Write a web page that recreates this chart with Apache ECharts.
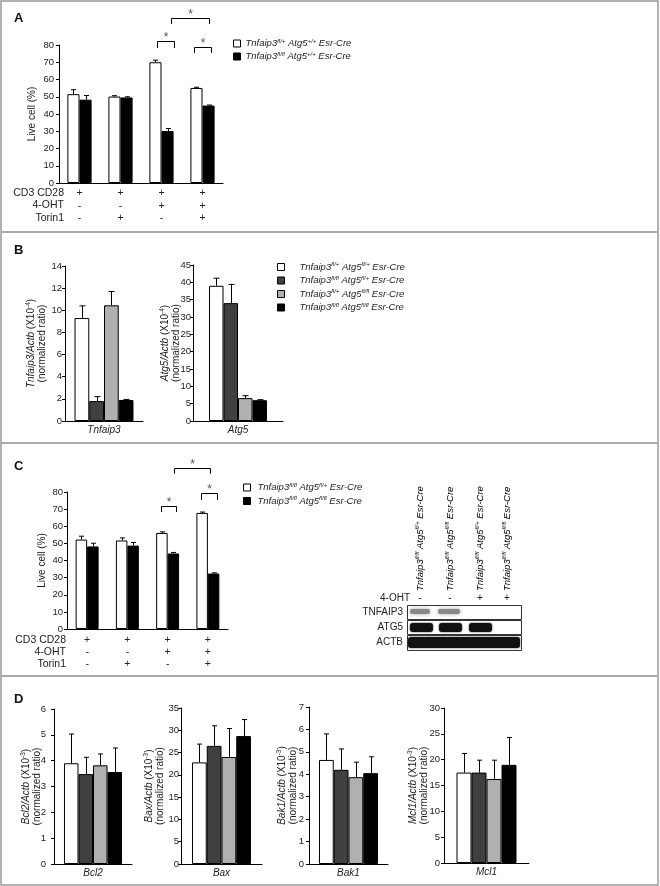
<!DOCTYPE html>
<html><head><meta charset="utf-8">
<script src="https://cdn.jsdelivr.net/npm/echarts@6/dist/echarts.min.js"></script>
<style>html,body{margin:0;padding:0;background:#fff}#c{width:660px;height:886px}</style>
</head><body><div id="c"></div>
<script>
// ---------------- DATA ----------------
// Panel A
const condCD3 = ['+', '+', '+', '+'];
const condOHT = ['-', '-', '+', '+'];
const condTorin = ['-', '+', '-', '+'];
const aWhite = [51.5, 50.1, 70.0, 55.1];
const aWhiteErr = [2.6, 0.5, 1.2, 0.4];
const aBlack = [48.3, 49.6, 30.1, 44.9];
const aBlackErr = [2.4, 0.4, 1.5, 0.3];
// Panel B
const bTnfaip3 = [9.3, 1.8, 10.45, 1.9];
const bTnfaip3Err = [1.1, 0.4, 1.25, 0.05];
const bAtg5 = [39.0, 34.0, 6.6, 6.0];
const bAtg5Err = [2.2, 5.4, 0.7, 0.15];
// Panel C
const cWhite = [52.2, 51.7, 56.1, 67.8];
const cWhiteErr = [2.0, 1.5, 0.6, 0.5];
const cBlack = [48.2, 48.7, 44.1, 32.4];
const cBlackErr = [1.9, 1.8, 0.6, 0.4];
// Panel D
const dBcl2 = [3.90, 3.48, 3.82, 3.56];
const dBcl2Err = [1.13, 0.65, 0.44, 0.93];
const dBax = [22.8, 26.5, 24.0, 28.7];
const dBaxErr = [4.1, 4.5, 6.4, 3.7];
const dBak1 = [4.64, 4.20, 3.87, 4.05];
const dBak1Err = [1.16, 0.93, 0.67, 0.73];
const dMcl1 = [17.5, 17.5, 16.25, 19.0];
const dMcl1Err = [3.7, 2.4, 3.65, 5.3];
// Genotype labels [Tnfaip3, Atg5]
const genoA = [['fl/+', '+/+'], ['fl/fl', '+/+']];
const genoB = [['fl/+', 'fl/+'], ['fl/fl', 'fl/+'], ['fl/+', 'fl/fl'], ['fl/fl', 'fl/fl']];
const genoC = [['fl/fl', 'fl/+'], ['fl/fl', 'fl/fl']];
const genoBlot = [['fl/fl', 'fl/+'], ['fl/fl', 'fl/fl'], ['fl/fl', 'fl/+'], ['fl/fl', 'fl/fl']];
const blotOHT = ['-', '-', '+', '+'];
const condRows = ['CD3 CD28', '4-OHT', 'Torin1'];

// significance annotations: [cat1, offset1, cat2, offset2, topValue, legValue]
const sigA = [[2, -0.1, 2, 0.3, 82.3, 78.3], [3, -0.2, 3, 0.2, 78.8, 75.4], [2, 0.22, 3, 0.15, 95.7, 92.2]];
const sigC = [[2, -0.17, 2, 0.22, 71.8, 68.3], [3, -0.17, 3, 0.22, 79.4, 75.3], [2, 0.17, 3, 0.05, 94.2, 90.7]];

// ---------------- STYLE ----------------
const FONT = '"Liberation Sans", Arial, sans-serif';
const TXT = '#222';
const COLORS4 = ['#ffffff', '#404040', '#b0b0b0', '#000000'];
const COLORS2 = ['#ffffff', '#000000'];

const richText = {
  i: {fontStyle: 'italic', fontSize: 9.5, fontFamily: FONT, color: TXT, lineHeight: 11},
  n: {fontSize: 9.5, fontFamily: FONT, color: TXT, lineHeight: 11},
  s: {fontStyle: 'italic', fontSize: 6, fontFamily: FONT, color: TXT, lineHeight: 6, verticalAlign: 'top'},
  e: {fontSize: 6, fontFamily: FONT, color: TXT, lineHeight: 6, verticalAlign: 'top'}
};
const richAxis = {
  i: {fontStyle: 'italic', fontSize: 10, fontFamily: FONT, color: TXT, lineHeight: 11.5},
  n: {fontSize: 10, fontFamily: FONT, color: TXT, lineHeight: 11.5},
  e: {fontSize: 6.5, fontFamily: FONT, color: TXT, lineHeight: 6, verticalAlign: 'top'}
};
function genoText(g) { return '{i|Tnfaip3}{s|' + g[0] + '}{i| Atg5}{s|' + g[1] + '}{i| Esr-Cre}'; }
function axName(gene, exp) { return '{i|' + gene + '/Actb}{n| (X10}{e|' + exp + '}{n|)}\n{n|(normalized ratio)}'; }

const grids = [
  {left: 59, top: 45, width: 164, height: 138},   // A
  {left: 65, top: 266, width: 78, height: 155},   // B1
  {left: 193, top: 265, width: 90, height: 156},  // B2
  {left: 67, top: 492, width: 161, height: 137},  // C
  {left: 54, top: 709, width: 78, height: 155},   // D1
  {left: 181, top: 708, width: 81, height: 156},  // D2
  {left: 309, top: 707, width: 79, height: 157},  // D3
  {left: 444, top: 708, width: 85, height: 155}   // D4
];

function mkY(gi, max, interval, name, nameGap, labelMargin) {
  return {type: 'value', gridIndex: gi, min: 0, max: max, interval: interval,
    axisLine: {show: true, lineStyle: {color: '#000', width: 1}},
    axisTick: {show: true, length: 3, lineStyle: {color: '#000'}},
    splitLine: {show: false},
    axisLabel: {fontSize: 9.5, color: TXT, fontFamily: FONT, margin: labelMargin},
    name: name, nameLocation: 'middle', nameRotate: 90, nameGap: nameGap, nameMoveOverlap: false,
    nameTextStyle: {fontSize: 10, color: TXT, fontFamily: FONT, rich: richAxis, align: 'center'}
  };
}
function mkXcond(gi, margin, lh) {
  return {type: 'category', gridIndex: gi, data: condCD3.map((c, i) => 'g' + i),
    axisLine: {show: true, lineStyle: {color: '#000'}}, axisTick: {show: false},
    axisLabel: {fontSize: 10.5, color: TXT, fontFamily: FONT, margin: margin, lineHeight: lh,
      formatter: (v, i) => condCD3[i] + '\n' + condOHT[i] + '\n' + condTorin[i]}
  };
}
function mkXgene(gi, gene) {
  return {type: 'category', gridIndex: gi, data: [gene],
    axisLine: {show: true, lineStyle: {color: '#000'}}, axisTick: {show: false},
    axisLabel: {fontSize: 10, fontStyle: 'italic', color: TXT, fontFamily: FONT, margin: 4}
  };
}
function bar(name, gi, data, color, gap) {
  return {type: 'bar', name: name, xAxisIndex: gi, yAxisIndex: gi, data: data, barGap: '0%',
    barCategoryGap: gap, silent: true, itemStyle: {color: color, borderColor: '#000', borderWidth: 1}};
}
// items: [cat, barIndex, value, err]
function errBars(gi, items, n, gapFrac, cap) {
  return {type: 'custom', xAxisIndex: gi, yAxisIndex: gi, silent: true, z: 5, data: items,
    renderItem: function (params, api) {
      const cat = api.value(0), k = api.value(1), v = api.value(2), e = api.value(3);
      const band = api.size([1, 0])[0];
      const tot = band * (1 - gapFrac), w = tot / n;
      const b = api.coord([cat, v]), t = api.coord([cat, v + e]);
      const x = Math.round(b[0] - tot / 2 + w * (k + 0.5)) + 0.5;
      return {type: 'group', children: [
        {type: 'line', shape: {x1: x, y1: b[1], x2: x, y2: t[1]}, style: {stroke: '#000', lineWidth: 1}},
        {type: 'line', shape: {x1: x - cap, y1: t[1], x2: x + cap, y2: t[1]}, style: {stroke: '#000', lineWidth: 1}}
      ]};
    }};
}
function sigSeries(gi, items) {
  return {type: 'custom', xAxisIndex: gi, yAxisIndex: gi, silent: true, z: 6, data: items,
    renderItem: function (params, api) {
      const band = api.size([1, 0])[0];
      const x1 = Math.round(api.coord([api.value(0), 0])[0] + api.value(1) * band) + 0.5;
      const x2 = Math.round(api.coord([api.value(2), 0])[0] + api.value(3) * band) + 0.5;
      const yt = Math.round(api.coord([0, api.value(4)])[1]) + 0.5;
      const yl = api.coord([0, api.value(5)])[1];
      return {type: 'group', children: [
        {type: 'polyline', shape: {points: [[x1, yl], [x1, yt], [x2, yt], [x2, yl]]}, style: {stroke: '#000', lineWidth: 1, fill: null}},
        {type: 'text', x: (x1 + x2) / 2, y: yt - 4, style: {text: '*', fontSize: 12, fontFamily: FONT, fill: '#555', align: 'center', verticalAlign: 'middle'}}
      ]};
    }};
}
function pairItems(vals, errs, k) { return vals.map((v, i) => [i, k, v, errs[i]]); }
function quadItems(vals, errs) { return vals.map((v, k) => [0, k, v, errs[k]]); }

const legendNames = {};
function legend(prefix, genos, left, top, gap, textPad) {
  const data = genos.map((g, k) => { const nm = prefix + k; legendNames[nm] = genoText(g); return nm; });
  return {orient: 'vertical', left: left, top: top, padding: 0, itemWidth: 7, itemHeight: 7, itemGap: gap, icon: 'rect',
    selectedMode: false, data: data,
    itemStyle: {borderColor: '#000', borderWidth: 1},
    formatter: nm => legendNames[nm],
    textStyle: {rich: richText, padding: [0, 0, 0, textPad]}};
}

const series = [];
// A
series.push(bar('A0', 0, aWhite, COLORS2[0], '41%'), bar('A1', 0, aBlack, COLORS2[1], '41%'));
series.push(errBars(0, pairItems(aWhite, aWhiteErr, 0).concat(pairItems(aBlack, aBlackErr, 1)), 2, 0.41, 2.5));
series.push(sigSeries(0, sigA));
// B
[[1, bTnfaip3, bTnfaip3Err, 0.244], [2, bAtg5, bAtg5Err, 0.356]].forEach(([gi, vals, errs, gap]) => {
  vals.forEach((v, k) => series.push(bar('B' + k, gi, [v], COLORS4[k], (gap * 100) + '%')));
  series.push(errBars(gi, quadItems(vals, errs), 4, gap, 3));
});
// C
series.push(bar('C0', 3, cWhite, COLORS2[0], '43%'), bar('C1', 3, cBlack, COLORS2[1], '43%'));
series.push(errBars(3, pairItems(cWhite, cWhiteErr, 0).concat(pairItems(cBlack, cBlackErr, 1)), 2, 0.43, 2.5));
series.push(sigSeries(3, sigC));
// D
[[4, dBcl2, dBcl2Err, 0.256], [5, dBax, dBaxErr, 0.272], [6, dBak1, dBak1Err, 0.253], [7, dMcl1, dMcl1Err, 0.294]].forEach(([gi, vals, errs, gap]) => {
  vals.forEach((v, k) => series.push(bar('B' + k, gi, [v], COLORS4[k], (gap * 100) + '%')));
  series.push(errBars(gi, quadItems(vals, errs), 4, gap, 2.5));
});

const xAxis = [mkXcond(0, 4, 12.5), mkXgene(1, 'Tnfaip3'), mkXgene(2, 'Atg5'), mkXcond(3, 5, 12),
  mkXgene(4, 'Bcl2'), mkXgene(5, 'Bax'), mkXgene(6, 'Bak1'), mkXgene(7, 'Mcl1')];
const yAxis = [
  mkY(0, 80, 10, '{n|Live cell (%)}', 21, 5),
  mkY(1, 14, 2, axName('Tnfaip3', '-4'), 17, 3),
  mkY(2, 45, 5, axName('Atg5', '-4'), 11, 2),
  mkY(3, 80, 10, '{n|Live cell (%)}', 19, 4),
  mkY(4, 6, 1, axName('Bcl2', '-3'), 11, 8),
  mkY(5, 35, 5, axName('Bax', '-3'), 15, 2),
  mkY(6, 7, 1, axName('Bak1', '-3'), 10, 5),
  mkY(7, 30, 5, axName('Mcl1', '-3'), 14, 4)
];

// ---------------- GRAPHIC ----------------
const g = [];
g.push({type: 'rect', shape: {x: 1, y: 1, width: 657, height: 884}, style: {fill: null, stroke: '#999', lineWidth: 1.5}});
[232, 443, 676].forEach(y => g.push({type: 'line', shape: {x1: 1, y1: y, x2: 658, y2: y}, style: {stroke: '#aaa', lineWidth: 2}}));
[['A', 18], ['B', 250], ['C', 466], ['D', 699]].forEach(([t, y]) => g.push({type: 'text', x: 14, y: y,
  style: {text: t, fontSize: 13, fontWeight: 'bold', fontFamily: FONT, fill: '#111', verticalAlign: 'middle'}}));
[[64, [193, 205.5, 218]], [66, [640, 652, 664]]].forEach(([x, ys]) => condRows.forEach((t, r) => g.push({type: 'text', x: x, y: ys[r],
  style: {text: t, fontSize: 10.5, fontFamily: FONT, fill: TXT, align: 'right', verticalAlign: 'middle'}})));
// Western blot
const laneX = [420, 450, 480, 507];
genoBlot.forEach((gt, k) => g.push({type: 'text', x: laneX[k], y: 591, rotation: Math.PI / 2,
  style: {text: genoText(gt), rich: richText, align: 'left', verticalAlign: 'middle'}}));
g.push({type: 'text', x: 410, y: 598, style: {text: '4-OHT', fontSize: 10, fontFamily: FONT, fill: TXT, align: 'right', verticalAlign: 'middle'}});
blotOHT.forEach((s, k) => g.push({type: 'text', x: laneX[k], y: 598, style: {text: s, fontSize: 10, fontFamily: FONT, fill: TXT, align: 'center', verticalAlign: 'middle'}}));
[['TNFAIP3', 612], ['ATG5', 627], ['ACTB', 642]].forEach(([t, y]) => g.push({type: 'text', x: 403, y: y,
  style: {text: t, fontSize: 10, fontFamily: FONT, fill: TXT, align: 'right', verticalAlign: 'middle'}}));
// bands
[[410, 20], [438, 22]].forEach(([x, w]) => g.push({type: 'rect', shape: {x: x, y: 609, width: w, height: 5, r: 2},
  style: {fill: '#888', shadowBlur: 4, shadowColor: '#aaa'}}));
[[410, 23], [439, 23], [469, 23]].forEach(([x, w]) => g.push({type: 'rect', shape: {x: x, y: 623, width: w, height: 9, r: 3},
  style: {fill: '#111', shadowBlur: 2, shadowColor: '#333'}}));
g.push({type: 'rect', shape: {x: 408, y: 637, width: 112, height: 11, r: 3}, style: {fill: '#111', shadowBlur: 2, shadowColor: '#333'}});
[[605, 14], [620, 14], [635, 15]].forEach(([y, h]) => g.push({type: 'rect', shape: {x: 407.5, y: y + 0.5, width: 114, height: h},
  style: {fill: null, stroke: '#333', lineWidth: 1}}));

const chart = echarts.init(document.getElementById('c'), null, {renderer: 'canvas'});
chart.setOption({
  animation: false,
  backgroundColor: '#fff',
  textStyle: {fontFamily: FONT},
  grid: grids,
  xAxis: xAxis,
  yAxis: yAxis,
  legend: [
    legend('A', genoA, 233, 38, 2.5, 0),
    legend('B', genoB, 277, 261.5, 3, 10),
    legend('C', genoC, 243, 482, 3, 2),
    legend('D', genoB, 529, 704, 3, 3)
  ],
  series: series,
  graphic: g
});
</script></body></html>
